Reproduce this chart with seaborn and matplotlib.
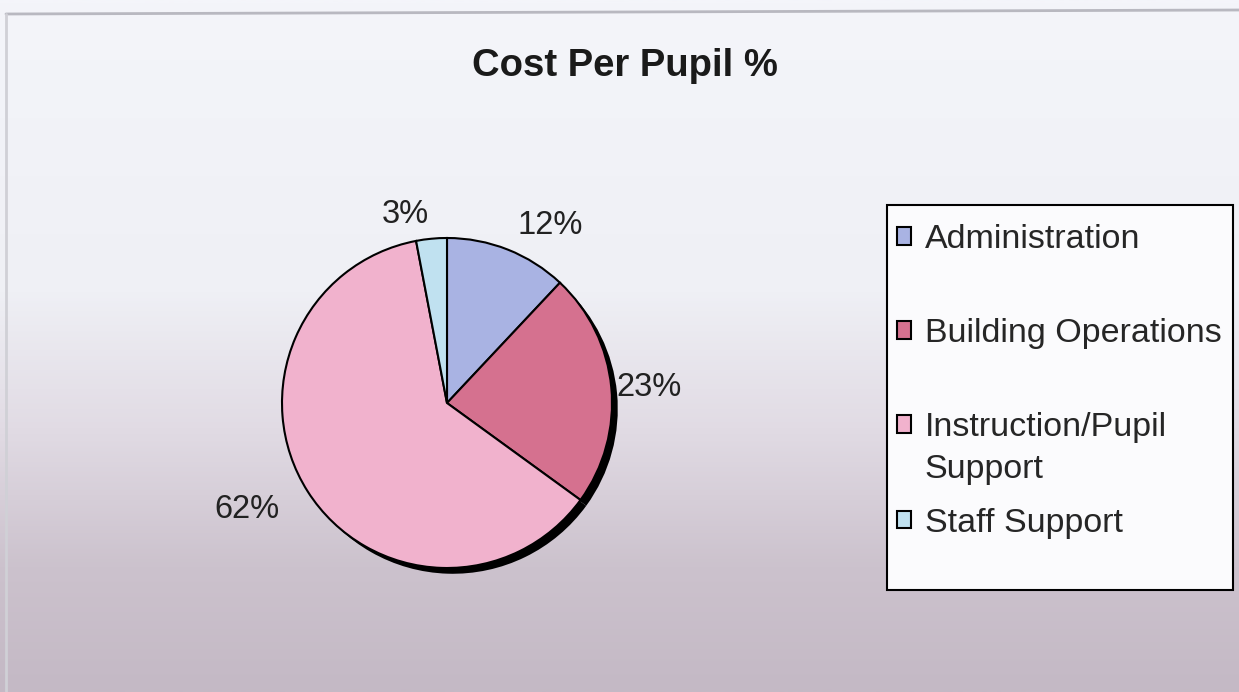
import numpy as np
import matplotlib
matplotlib.use("Agg")
import matplotlib.pyplot as plt
from matplotlib.colors import LinearSegmentedColormap
from matplotlib.lines import Line2D
from matplotlib.patches import Rectangle
import seaborn as sns

# data
categories = ["Administration", "Building Operations", "Instruction/Pupil Support", "Staff Support"]
values = [12, 23, 62, 3]
pct_labels = [f"{v}%" for v in values]
colors = ["#a9b3e3", "#d5718f", "#f1b2cd", "#c0e1f0"]

sns.set_theme(style="white")
plt.rcParams["font.family"] = ["Liberation Sans", "DejaVu Sans"]

W, H = 1239, 692
fig = plt.figure(figsize=(W / 100, H / 100), dpi=100)

# background gradient (white top -> mauve bottom)
bg = fig.add_axes([0, 0, 1, 1], zorder=0)
cmap = LinearSegmentedColormap.from_list(
    "bg", [(0, "#f4f5fa"), (0.42, "#eff0f5"), (0.62, "#e1dbe4"),
           (0.82, "#ccc2cd"), (1, "#c4b9c5")])
grad = np.linspace(0, 1, 400).reshape(-1, 1)
bg.imshow(grad, aspect="auto", cmap=cmap, extent=[0, 1, 0, 1], origin="upper")
bg.set_xlim(0, 1)
bg.set_ylim(0, 1)
bg.set_axis_off()

# chart area border (top + left)
fig.add_artist(Line2D([6 / W, 1], [1 - 14 / H, 1 - 10 / H], color="#b8b8c0", lw=2, zorder=0.4))
fig.add_artist(Line2D([6 / W, 6 / W], [0, 1 - 14 / H], color="#d0d0d6", lw=2, zorder=0.4))

# pie axes: 165 px per unit, centre at (447, 403)
R = 165
cx, cy = 447, 403
ax = fig.add_axes([(cx - 1.25 * R) / W, (H - cy - 1.25 * R) / H, 2.5 * R / W, 2.5 * R / H], zorder=1)

# shadow
ax.pie(values, colors=["black"] * len(values), center=(0.035, -0.035), startangle=90,
       counterclock=False, wedgeprops=dict(linewidth=0))
wedges, texts = ax.pie(values, labels=pct_labels, colors=colors, startangle=90,
                       counterclock=False, labeldistance=1.15,
                       wedgeprops=dict(edgecolor="black", linewidth=1.5),
                       textprops=dict(fontsize=23.5, color="#222222"))

# Excel-like label placement: nudge each label's radial distance
label_dist = [1.16, 1.03, 1.2, 1.15]
for w, t, d in zip(wedges, texts, label_dist):
    ang = np.deg2rad((w.theta1 + w.theta2) / 2)
    t.set_position((d * np.cos(ang), d * np.sin(ang)))

ax.set_xlim(-1.25, 1.25)
ax.set_ylim(-1.25, 1.25)
ax.set_axis_off()

fig.text(625 / W, 1 - 66 / H, "Cost Per Pupil %", ha="center", va="center",
         fontsize=27.5, fontweight="bold", color="#1a1a1a")

# legend box
fig.add_artist(Rectangle((887 / W, 1 - 590 / H), (1233 - 887) / W, (590 - 205) / H,
                         transform=fig.transFigure, facecolor="#fbfbfd",
                         edgecolor="black", lw=1.5, zorder=0.5))

leg_kw = dict(frameon=False, fontsize=24.5, handlelength=0.42, handleheight=0.42,
              handletextpad=0.4, borderpad=0, borderaxespad=0, loc="upper left",
              bbox_transform=fig.transFigure)
# first three entries (Instruction/Pupil wraps: second line goes with the last block)
first, rest = categories[2].split("/")[0] + "/Pupil", "Support"
leg1 = ax.legend(wedges[:3], [categories[0], categories[1], first], labelspacing=1.85,
                 bbox_to_anchor=(897 / W, 1 - 224 / H), **leg_kw)
ax.add_artist(leg1)
blank = Rectangle((0, 0), 1, 1, facecolor="none", edgecolor="none")
ax.legend([blank, wedges[3]], [rest, categories[3]], labelspacing=0.67,
          bbox_to_anchor=(897 / W, 1 - 454 / H), **leg_kw)

fig.savefig("out.png", dpi=100)
